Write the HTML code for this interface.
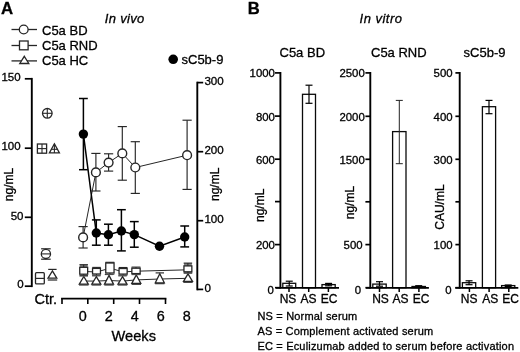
<!DOCTYPE html>
<html><head><meta charset="utf-8"><title>Figure</title>
<style>
html,body{margin:0;padding:0;background:#fff;}
svg{display:block;font-family:"Liberation Sans",sans-serif;}
</style></head>
<body>
<svg width="520" height="352" viewBox="0 0 520 352">
<rect width="520" height="352" fill="#fff"/>
<text x="1.0" y="13.8" font-size="16.8" text-anchor="start" font-weight="bold" fill="#000" stroke="#000" stroke-width="0.3">A</text>
<text x="104.8" y="23.2" font-size="13" text-anchor="start" font-style="italic" letter-spacing="0.33" fill="#000" stroke="#000" stroke-width="0.3">In vivo</text>
<line x1="11.5" y1="29.5" x2="37" y2="29.5" stroke="#262626" stroke-width="1.3" />
<circle cx="23.7" cy="29.5" r="4.4" fill="#fff" stroke="#262626" stroke-width="1.3"/>
<text x="42" y="34.8" font-size="13" text-anchor="start" fill="#000" stroke="#000" stroke-width="0.3">C5a BD</text>
<line x1="11.5" y1="45.5" x2="37" y2="45.5" stroke="#262626" stroke-width="1.3" />
<rect x="19.5" y="41.0" width="8.6" height="8.8" fill="#fff" stroke="#262626" stroke-width="1.3"/>
<text x="42" y="49.8" font-size="13" text-anchor="start" fill="#000" stroke="#000" stroke-width="0.3">C5a RND</text>
<line x1="11.5" y1="60.9" x2="37" y2="60.9" stroke="#262626" stroke-width="1.3" />
<polygon points="24.3,56.3 28.8,63.5 19.8,63.5" fill="#fff" stroke="#262626" stroke-width="1.3"/>
<text x="42" y="64.7" font-size="13" text-anchor="start" fill="#000" stroke="#000" stroke-width="0.3">C5a HC</text>
<circle cx="173.2" cy="59.3" r="4.8" fill="#000"/>
<text x="181.5" y="64" font-size="13" text-anchor="start" fill="#000" stroke="#000" stroke-width="0.3">sC5b-9</text>
<line x1="31.8" y1="77.9" x2="31.8" y2="287.1" stroke="#000" stroke-width="1.9" />
<line x1="24.8" y1="78.8" x2="31.8" y2="78.8" stroke="#000" stroke-width="1.7" />
<text x="20.599999999999998" y="81.0" font-size="11.5" text-anchor="end" fill="#000" stroke="#000" stroke-width="0.3">150</text>
<line x1="24.8" y1="148.2" x2="31.8" y2="148.2" stroke="#000" stroke-width="1.7" />
<text x="20.599999999999998" y="150.39999999999998" font-size="11.5" text-anchor="end" fill="#000" stroke="#000" stroke-width="0.3">100</text>
<line x1="24.8" y1="217.3" x2="31.8" y2="217.3" stroke="#000" stroke-width="1.7" />
<text x="23.5" y="219.5" font-size="11.5" text-anchor="end" fill="#000" stroke="#000" stroke-width="0.3">50</text>
<line x1="24.8" y1="286.2" x2="31.8" y2="286.2" stroke="#000" stroke-width="1.7" />
<text x="23.7" y="288.4" font-size="11.5" text-anchor="end" fill="#000" stroke="#000" stroke-width="0.3">0</text>
<text x="13.2" y="184.5" font-size="12.1" text-anchor="middle" transform="rotate(-90 13.2 184.5)" fill="#000" stroke="#000" stroke-width="0.3">ng/mL</text>
<line x1="197.3" y1="81.7" x2="197.3" y2="290.3" stroke="#000" stroke-width="1.9" />
<line x1="197.3" y1="82.6" x2="203.2" y2="82.6" stroke="#000" stroke-width="1.7" />
<text x="204.4" y="84.69999999999999" font-size="11.6" text-anchor="start" fill="#000" stroke="#000" stroke-width="0.3">300</text>
<line x1="197.3" y1="151.7" x2="203.2" y2="151.7" stroke="#000" stroke-width="1.7" />
<text x="204.4" y="154.29999999999998" font-size="11.6" text-anchor="start" fill="#000" stroke="#000" stroke-width="0.3">200</text>
<line x1="197.3" y1="220.7" x2="203.2" y2="220.7" stroke="#000" stroke-width="1.7" />
<text x="204.4" y="223.29999999999998" font-size="11.6" text-anchor="start" fill="#000" stroke="#000" stroke-width="0.3">100</text>
<line x1="197.3" y1="289.4" x2="203.2" y2="289.4" stroke="#000" stroke-width="1.7" />
<text x="204.4" y="291.5" font-size="11.6" text-anchor="start" fill="#000" stroke="#000" stroke-width="0.3">0</text>
<text x="219.2" y="184.3" font-size="12" text-anchor="middle" transform="rotate(-90 219.2 184.3)" fill="#000" stroke="#000" stroke-width="0.3">ng/mL</text>
<line x1="61.1" y1="298.6" x2="166.4" y2="298.6" stroke="#000" stroke-width="1.8" />
<line x1="62" y1="298.6" x2="62" y2="304" stroke="#000" stroke-width="1.6" />
<line x1="87.8" y1="298.6" x2="87.8" y2="304" stroke="#000" stroke-width="1.6" />
<line x1="113.7" y1="298.6" x2="113.7" y2="304" stroke="#000" stroke-width="1.6" />
<line x1="139.5" y1="298.6" x2="139.5" y2="304" stroke="#000" stroke-width="1.6" />
<line x1="165.5" y1="298.6" x2="165.5" y2="304" stroke="#000" stroke-width="1.6" />
<text x="82.8" y="320.9" font-size="14.4" text-anchor="middle" fill="#000" stroke="#000" stroke-width="0.3">0</text>
<text x="108.8" y="320.9" font-size="14.4" text-anchor="middle" fill="#000" stroke="#000" stroke-width="0.3">2</text>
<text x="134.8" y="320.9" font-size="14.4" text-anchor="middle" fill="#000" stroke="#000" stroke-width="0.3">4</text>
<text x="160.8" y="320.9" font-size="14.4" text-anchor="middle" fill="#000" stroke="#000" stroke-width="0.3">6</text>
<text x="186.8" y="320.9" font-size="14.4" text-anchor="middle" fill="#000" stroke="#000" stroke-width="0.3">8</text>
<text x="34.4" y="303.8" font-size="14.6" text-anchor="start" fill="#000" stroke="#000" stroke-width="0.3">Ctr.</text>
<text x="111.6" y="340.5" font-size="14.6" text-anchor="start" fill="#000" stroke="#000" stroke-width="0.3">Weeks</text>
<circle cx="47.3" cy="113.3" r="4.8" fill="#fff" stroke="#262626" stroke-width="1.3"/>
<line x1="42.5" y1="113.3" x2="52.1" y2="113.3" stroke="#262626" stroke-width="1.1" />
<line x1="47.3" y1="108.5" x2="47.3" y2="118.1" stroke="#262626" stroke-width="1.1" />
<rect x="37.4" y="144" width="9.2" height="9.2" fill="#fff" stroke="#262626" stroke-width="1.3"/>
<line x1="37.4" y1="148.6" x2="46.6" y2="148.6" stroke="#262626" stroke-width="1.1" />
<line x1="42" y1="144" x2="42" y2="153.2" stroke="#262626" stroke-width="1.1" />
<polygon points="54.4,143.8 59.4,152.9 49.4,152.9" fill="#fff" stroke="#262626" stroke-width="1.3"/>
<line x1="54.4" y1="144" x2="54.4" y2="152.9" stroke="#262626" stroke-width="1.1" />
<line x1="51.2" y1="149.3" x2="57.6" y2="149.3" stroke="#262626" stroke-width="1.1" />
<line x1="45.9" y1="248.8" x2="45.9" y2="259.2" stroke="#262626" stroke-width="1.2" />
<line x1="41.1" y1="248.8" x2="50.699999999999996" y2="248.8" stroke="#262626" stroke-width="1.2" />
<line x1="41.1" y1="259.2" x2="50.699999999999996" y2="259.2" stroke="#262626" stroke-width="1.2" />
<circle cx="45.9" cy="253.9" r="4.6" fill="#fff" stroke="#262626" stroke-width="1.3"/>
<line x1="41.3" y1="253.9" x2="50.5" y2="253.9" stroke="#262626" stroke-width="1.1" />
<rect x="35.5" y="272.7" width="8.8" height="11.2" rx="1" fill="#fff" stroke="#262626" stroke-width="1.3"/>
<line x1="35.5" y1="278.4" x2="44.3" y2="278.4" stroke="#262626" stroke-width="1.2" />
<line x1="48.2" y1="269.4" x2="56.6" y2="269.4" stroke="#262626" stroke-width="1.2" />
<line x1="47.8" y1="280.0" x2="57.2" y2="280.0" stroke="#262626" stroke-width="1.2" />
<polygon points="52.4,270.9 56.8,278.2 48,278.2" fill="#fff" stroke="#262626" stroke-width="1.3"/>
<polyline fill="none" stroke="#262626" stroke-width="1" points="83.8,281.0 96.3,281.1 109,280.5 122.5,281.1 136.3,279.9 159.8,279.0 188,278.3"/>
<polyline fill="none" stroke="#262626" stroke-width="1" points="83.6,271.40000000000003 96.5,272.0 110.2,268.20000000000005 123,271.90000000000003 136.3,271.20000000000005 188,269.8"/>
<polyline fill="none" stroke="#262626" stroke-width="1" points="83.1,237.4 95.9,172.4 108.6,162.6 122.3,153.4 135.3,167.5 187.1,155.2"/>
<polyline fill="none" stroke="#000" stroke-width="1.5" points="83.4,134.1 96.3,233.0 108.4,234.8 121.4,231.0 134.3,234.6 159.5,246.2 184.7,237.0"/>
<line x1="79.6" y1="275.6" x2="88.0" y2="275.6" stroke="#262626" stroke-width="1.15" />
<line x1="79.1" y1="285.0" x2="88.5" y2="285.0" stroke="#262626" stroke-width="1.1" />
<polygon points="83.8,276.5 88.3,284.1 79.3,284.1" fill="#fff" stroke="#262626" stroke-width="1.3"/>
<line x1="92.1" y1="275.8" x2="100.5" y2="275.8" stroke="#262626" stroke-width="1.15" />
<line x1="91.6" y1="285.0" x2="101.0" y2="285.0" stroke="#262626" stroke-width="1.1" />
<polygon points="96.3,276.7 100.8,284.1 91.8,284.1" fill="#fff" stroke="#262626" stroke-width="1.3"/>
<line x1="104.8" y1="274.5" x2="113.2" y2="274.5" stroke="#262626" stroke-width="1.15" />
<line x1="104.3" y1="285.0" x2="113.7" y2="285.0" stroke="#262626" stroke-width="1.1" />
<polygon points="109,275.4 113.5,284.1 104.5,284.1" fill="#fff" stroke="#262626" stroke-width="1.3"/>
<line x1="118.3" y1="275.8" x2="126.7" y2="275.8" stroke="#262626" stroke-width="1.15" />
<line x1="117.8" y1="285.0" x2="127.2" y2="285.0" stroke="#262626" stroke-width="1.1" />
<polygon points="122.5,276.7 127.0,284.1 118.0,284.1" fill="#fff" stroke="#262626" stroke-width="1.3"/>
<line x1="132.10000000000002" y1="274.1" x2="140.5" y2="274.1" stroke="#262626" stroke-width="1.15" />
<line x1="131.60000000000002" y1="284.3" x2="141.0" y2="284.3" stroke="#262626" stroke-width="1.1" />
<polygon points="136.3,275.0 140.8,283.40000000000003 131.8,283.40000000000003" fill="#fff" stroke="#262626" stroke-width="1.3"/>
<line x1="155.60000000000002" y1="272.90000000000003" x2="164.0" y2="272.90000000000003" stroke="#262626" stroke-width="1.15" />
<line x1="155.10000000000002" y1="283.7" x2="164.5" y2="283.7" stroke="#262626" stroke-width="1.1" />
<polygon points="159.8,273.8 164.3,282.8 155.3,282.8" fill="#fff" stroke="#262626" stroke-width="1.3"/>
<line x1="183.8" y1="272.90000000000003" x2="192.2" y2="272.90000000000003" stroke="#262626" stroke-width="1.15" />
<line x1="183.3" y1="282.3" x2="192.7" y2="282.3" stroke="#262626" stroke-width="1.1" />
<polygon points="188,273.8 192.5,281.40000000000003 183.5,281.40000000000003" fill="#fff" stroke="#262626" stroke-width="1.3"/>
<rect x="79.75" y="264.7" width="7.9" height="2.6000000000000227" fill="#808080"/>
<line x1="83.7" y1="264.7" x2="83.7" y2="276.0" stroke="#262626" stroke-width="1" />
<line x1="79.45" y1="264.7" x2="87.95" y2="264.7" stroke="#262626" stroke-width="1.1" />
<line x1="79.45" y1="276.0" x2="87.95" y2="276.0" stroke="#555" stroke-width="1.1" />
<rect x="79.75" y="267.3" width="7.9" height="6.899999999999977" fill="#fff" stroke="#262626" stroke-width="1.3"/>
<line x1="96.5" y1="267.4" x2="96.5" y2="275.2" stroke="#262626" stroke-width="1" />
<line x1="92.25" y1="267.4" x2="100.75" y2="267.4" stroke="#262626" stroke-width="1.1" />
<line x1="92.25" y1="275.2" x2="100.75" y2="275.2" stroke="#555" stroke-width="1.1" />
<rect x="92.55" y="268.4" width="7.9" height="5.600000000000023" fill="#fff" stroke="#262626" stroke-width="1.3"/>
<line x1="109.9" y1="262.3" x2="109.9" y2="274.3" stroke="#262626" stroke-width="1" />
<line x1="105.45" y1="262.3" x2="114.35000000000001" y2="262.3" stroke="#262626" stroke-width="1.1" />
<line x1="105.45" y1="274.3" x2="114.35000000000001" y2="274.3" stroke="#555" stroke-width="1.1" />
<rect x="105.75" y="263.0" width="8.3" height="10.0" fill="#fff" stroke="#262626" stroke-width="1.3"/>
<line x1="123.1" y1="267.5" x2="123.1" y2="275.2" stroke="#262626" stroke-width="1" />
<line x1="118.75" y1="267.5" x2="127.44999999999999" y2="267.5" stroke="#262626" stroke-width="1.1" />
<line x1="118.75" y1="275.2" x2="127.44999999999999" y2="275.2" stroke="#555" stroke-width="1.1" />
<rect x="119.05" y="268.5" width="8.1" height="5.600000000000023" fill="#fff" stroke="#262626" stroke-width="1.3"/>
<line x1="136.0" y1="267.1" x2="136.0" y2="274.6" stroke="#262626" stroke-width="1" />
<line x1="131.54999999999998" y1="267.1" x2="140.45000000000002" y2="267.1" stroke="#262626" stroke-width="1.1" />
<line x1="131.54999999999998" y1="274.6" x2="140.45000000000002" y2="274.6" stroke="#555" stroke-width="1.1" />
<rect x="131.85" y="268.2" width="8.3" height="5.400000000000034" fill="#fff" stroke="#262626" stroke-width="1.3"/>
<rect x="183.95000000000002" y="263.1" width="7.9" height="2.7999999999999545" fill="#808080"/>
<line x1="187.9" y1="263.1" x2="187.9" y2="273.2" stroke="#262626" stroke-width="1" />
<line x1="183.65" y1="263.1" x2="192.15" y2="263.1" stroke="#262626" stroke-width="1.1" />
<line x1="183.65" y1="273.2" x2="192.15" y2="273.2" stroke="#555" stroke-width="1.1" />
<rect x="183.95000000000002" y="265.9" width="7.9" height="5.900000000000034" fill="#fff" stroke="#262626" stroke-width="1.3"/>
<line x1="83.1" y1="226.6" x2="83.1" y2="248.0" stroke="#262626" stroke-width="1.15" />
<line x1="78.5" y1="226.6" x2="87.69999999999999" y2="226.6" stroke="#262626" stroke-width="1.15" />
<line x1="78.5" y1="248.0" x2="87.69999999999999" y2="248.0" stroke="#262626" stroke-width="1.15" />
<line x1="95.9" y1="153.4" x2="95.9" y2="191.0" stroke="#262626" stroke-width="1.15" />
<line x1="91.30000000000001" y1="153.4" x2="100.5" y2="153.4" stroke="#262626" stroke-width="1.15" />
<line x1="91.30000000000001" y1="191.0" x2="100.5" y2="191.0" stroke="#262626" stroke-width="1.15" />
<line x1="108.6" y1="153.8" x2="108.6" y2="171.1" stroke="#262626" stroke-width="1.15" />
<line x1="104.0" y1="153.8" x2="113.19999999999999" y2="153.8" stroke="#262626" stroke-width="1.15" />
<line x1="104.0" y1="171.1" x2="113.19999999999999" y2="171.1" stroke="#262626" stroke-width="1.15" />
<line x1="122.3" y1="126.6" x2="122.3" y2="180.2" stroke="#262626" stroke-width="1.15" />
<line x1="117.7" y1="126.6" x2="126.89999999999999" y2="126.6" stroke="#262626" stroke-width="1.15" />
<line x1="117.7" y1="180.2" x2="126.89999999999999" y2="180.2" stroke="#262626" stroke-width="1.15" />
<line x1="135.3" y1="141.7" x2="135.3" y2="193.4" stroke="#262626" stroke-width="1.15" />
<line x1="130.70000000000002" y1="141.7" x2="139.9" y2="141.7" stroke="#262626" stroke-width="1.15" />
<line x1="130.70000000000002" y1="193.4" x2="139.9" y2="193.4" stroke="#262626" stroke-width="1.15" />
<line x1="187.1" y1="120.2" x2="187.1" y2="189.4" stroke="#262626" stroke-width="1.15" />
<line x1="182.5" y1="120.2" x2="191.7" y2="120.2" stroke="#262626" stroke-width="1.15" />
<line x1="182.5" y1="189.4" x2="191.7" y2="189.4" stroke="#262626" stroke-width="1.15" />
<circle cx="83.1" cy="237.4" r="4.4" fill="#fff" stroke="#262626" stroke-width="1.4"/>
<circle cx="95.9" cy="172.4" r="4.4" fill="#fff" stroke="#262626" stroke-width="1.4"/>
<circle cx="108.6" cy="162.6" r="4.4" fill="#fff" stroke="#262626" stroke-width="1.4"/>
<circle cx="122.3" cy="153.4" r="4.4" fill="#fff" stroke="#262626" stroke-width="1.4"/>
<circle cx="135.3" cy="167.5" r="4.4" fill="#fff" stroke="#262626" stroke-width="1.4"/>
<circle cx="187.1" cy="155.2" r="4.4" fill="#fff" stroke="#262626" stroke-width="1.4"/>
<line x1="83.4" y1="98.5" x2="83.4" y2="169.7" stroke="#000" stroke-width="1.5" />
<line x1="79.0" y1="98.5" x2="87.80000000000001" y2="98.5" stroke="#000" stroke-width="1.5" />
<line x1="79.0" y1="169.7" x2="87.80000000000001" y2="169.7" stroke="#000" stroke-width="1.5" />
<circle cx="83.4" cy="134.1" r="4.7" fill="#000"/>
<line x1="96.3" y1="219.9" x2="96.3" y2="245.2" stroke="#000" stroke-width="1.5" />
<line x1="91.89999999999999" y1="219.9" x2="100.7" y2="219.9" stroke="#000" stroke-width="1.5" />
<line x1="91.89999999999999" y1="245.2" x2="100.7" y2="245.2" stroke="#000" stroke-width="1.5" />
<circle cx="96.3" cy="233.0" r="4.7" fill="#000"/>
<line x1="108.4" y1="224.2" x2="108.4" y2="245.2" stroke="#000" stroke-width="1.5" />
<line x1="104.0" y1="224.2" x2="112.80000000000001" y2="224.2" stroke="#000" stroke-width="1.5" />
<line x1="104.0" y1="245.2" x2="112.80000000000001" y2="245.2" stroke="#000" stroke-width="1.5" />
<circle cx="108.4" cy="234.8" r="4.7" fill="#000"/>
<line x1="121.4" y1="209.7" x2="121.4" y2="250.9" stroke="#000" stroke-width="1.5" />
<line x1="117.0" y1="209.7" x2="125.80000000000001" y2="209.7" stroke="#000" stroke-width="1.5" />
<line x1="117.0" y1="250.9" x2="125.80000000000001" y2="250.9" stroke="#000" stroke-width="1.5" />
<circle cx="121.4" cy="231.0" r="4.7" fill="#000"/>
<line x1="134.3" y1="221.6" x2="134.3" y2="247.2" stroke="#000" stroke-width="1.5" />
<line x1="129.9" y1="221.6" x2="138.70000000000002" y2="221.6" stroke="#000" stroke-width="1.5" />
<line x1="129.9" y1="247.2" x2="138.70000000000002" y2="247.2" stroke="#000" stroke-width="1.5" />
<circle cx="134.3" cy="234.6" r="4.7" fill="#000"/>
<circle cx="159.5" cy="246.2" r="4.7" fill="#000"/>
<line x1="184.7" y1="226.0" x2="184.7" y2="246.9" stroke="#000" stroke-width="1.5" />
<line x1="180.29999999999998" y1="226.0" x2="189.1" y2="226.0" stroke="#000" stroke-width="1.5" />
<line x1="180.29999999999998" y1="246.9" x2="189.1" y2="246.9" stroke="#000" stroke-width="1.5" />
<circle cx="184.7" cy="237.0" r="4.7" fill="#000"/>
<text x="247.7" y="13.8" font-size="16.6" text-anchor="start" font-weight="bold" fill="#000" stroke="#000" stroke-width="0.3">B</text>
<text x="359.6" y="22.7" font-size="13" text-anchor="start" font-style="italic" letter-spacing="0.48" fill="#000" stroke="#000" stroke-width="0.3">In vitro</text>
<text x="279.5" y="57.3" font-size="13" text-anchor="start" fill="#000" stroke="#000" stroke-width="0.3">C5a BD</text>
<line x1="280.4" y1="72.0" x2="280.4" y2="288.6" stroke="#000" stroke-width="1.9" />
<line x1="275.0" y1="72.9" x2="280.4" y2="72.9" stroke="#000" stroke-width="1.7" />
<text x="274.90000000000003" y="77.30000000000001" font-size="11.4" text-anchor="end" fill="#000" stroke="#000" stroke-width="0.3">1000</text>
<line x1="275.0" y1="116.1" x2="280.4" y2="116.1" stroke="#000" stroke-width="1.7" />
<text x="274.90000000000003" y="120.5" font-size="11.4" text-anchor="end" fill="#000" stroke="#000" stroke-width="0.3">800</text>
<line x1="275.0" y1="159.2" x2="280.4" y2="159.2" stroke="#000" stroke-width="1.7" />
<text x="274.90000000000003" y="163.6" font-size="11.4" text-anchor="end" fill="#000" stroke="#000" stroke-width="0.3">600</text>
<line x1="275.0" y1="201.6" x2="280.4" y2="201.6" stroke="#000" stroke-width="1.7" />
<line x1="275.0" y1="244.6" x2="280.4" y2="244.6" stroke="#000" stroke-width="1.7" />
<text x="274.90000000000003" y="249.0" font-size="11.4" text-anchor="end" fill="#000" stroke="#000" stroke-width="0.3">200</text>
<line x1="275.0" y1="287.7" x2="280.4" y2="287.7" stroke="#000" stroke-width="1.7" />
<text x="273.8" y="293.7" font-size="11.4" text-anchor="end" fill="#000" stroke="#000" stroke-width="0.3">0</text>
<text x="263.8" y="205.3" font-size="12" text-anchor="middle" transform="rotate(-90 263.8 205.3)" fill="#000" stroke="#000" stroke-width="0.3">ng/mL</text>
<rect x="282.8" y="283.3" width="12.899999999999977" height="4.399999999999977" fill="#fff" stroke="#0a0a0a" stroke-width="1.3"/>
<line x1="289.25" y1="281.2" x2="289.25" y2="286.0" stroke="#000" stroke-width="1.2" />
<line x1="285.75" y1="281.2" x2="292.75" y2="281.2" stroke="#000" stroke-width="1.2" />
<line x1="285.75" y1="286.0" x2="292.75" y2="286.0" stroke="#000" stroke-width="1.2" />
<rect x="302.5" y="94.3" width="13.0" height="193.39999999999998" fill="#fff" stroke="#0a0a0a" stroke-width="1.3"/>
<line x1="309.0" y1="85.2" x2="309.0" y2="103.3" stroke="#000" stroke-width="1.2" />
<line x1="305.5" y1="85.2" x2="312.5" y2="85.2" stroke="#000" stroke-width="1.2" />
<line x1="305.5" y1="103.3" x2="312.5" y2="103.3" stroke="#000" stroke-width="1.2" />
<rect x="322" y="284.6" width="13.199999999999989" height="3.099999999999966" fill="#fff" stroke="#0a0a0a" stroke-width="1.3"/>
<line x1="328.6" y1="283.4" x2="328.6" y2="285.8" stroke="#000" stroke-width="1.2" />
<line x1="325.1" y1="283.4" x2="332.1" y2="283.4" stroke="#000" stroke-width="1.2" />
<line x1="325.1" y1="285.8" x2="332.1" y2="285.8" stroke="#000" stroke-width="1.2" />
<line x1="276.0" y1="287.85" x2="339.0" y2="287.85" stroke="#000" stroke-width="1.8" />
<line x1="289.0" y1="287.8" x2="289.0" y2="292.0" stroke="#000" stroke-width="1.5" />
<text x="288.0" y="303.2" font-size="12" text-anchor="middle" fill="#000" stroke="#000" stroke-width="0.3">NS</text>
<line x1="308.7" y1="287.8" x2="308.7" y2="292.0" stroke="#000" stroke-width="1.5" />
<text x="308.4" y="303.2" font-size="12" text-anchor="middle" fill="#000" stroke="#000" stroke-width="0.3">AS</text>
<line x1="328.4" y1="287.8" x2="328.4" y2="292.0" stroke="#000" stroke-width="1.5" />
<text x="329.2" y="303.2" font-size="12" text-anchor="middle" fill="#000" stroke="#000" stroke-width="0.3">EC</text>
<text x="371" y="57.3" font-size="13" text-anchor="start" fill="#000" stroke="#000" stroke-width="0.3">C5a RND</text>
<line x1="370.29999999999995" y1="72.0" x2="370.29999999999995" y2="288.6" stroke="#000" stroke-width="1.9" />
<line x1="365.4" y1="72.9" x2="370.29999999999995" y2="72.9" stroke="#000" stroke-width="1.7" />
<text x="364.8" y="77.30000000000001" font-size="11.4" text-anchor="end" fill="#000" stroke="#000" stroke-width="0.3">2500</text>
<line x1="365.4" y1="116.3" x2="370.29999999999995" y2="116.3" stroke="#000" stroke-width="1.7" />
<text x="364.8" y="120.7" font-size="11.4" text-anchor="end" fill="#000" stroke="#000" stroke-width="0.3">2000</text>
<line x1="365.4" y1="159.3" x2="370.29999999999995" y2="159.3" stroke="#000" stroke-width="1.7" />
<text x="364.8" y="163.70000000000002" font-size="11.4" text-anchor="end" fill="#000" stroke="#000" stroke-width="0.3">1500</text>
<line x1="365.4" y1="201.8" x2="370.29999999999995" y2="201.8" stroke="#000" stroke-width="1.7" />
<line x1="365.4" y1="244.6" x2="370.29999999999995" y2="244.6" stroke="#000" stroke-width="1.7" />
<text x="362.6" y="249.0" font-size="11.4" text-anchor="end" fill="#000" stroke="#000" stroke-width="0.3">500</text>
<line x1="365.4" y1="287.7" x2="370.29999999999995" y2="287.7" stroke="#000" stroke-width="1.7" />
<text x="361.2" y="293.7" font-size="11.4" text-anchor="end" fill="#000" stroke="#000" stroke-width="0.3">0</text>
<text x="354" y="202.6" font-size="12" text-anchor="middle" transform="rotate(-90 354 202.6)" fill="#000" stroke="#000" stroke-width="0.3">ng/mL</text>
<rect x="372.8" y="284.1" width="13.399999999999977" height="3.599999999999966" fill="#fff" stroke="#0a0a0a" stroke-width="1.3"/>
<line x1="379.5" y1="281.7" x2="379.5" y2="286.2" stroke="#000" stroke-width="1.2" />
<line x1="376.0" y1="281.7" x2="383.0" y2="281.7" stroke="#000" stroke-width="1.2" />
<line x1="376.0" y1="286.2" x2="383.0" y2="286.2" stroke="#000" stroke-width="1.2" />
<rect x="392.6" y="131.6" width="13.399999999999977" height="156.1" fill="#fff" stroke="#0a0a0a" stroke-width="1.3"/>
<line x1="399.3" y1="100.4" x2="399.3" y2="163.7" stroke="#222" stroke-width="1.0" />
<line x1="395.8" y1="100.4" x2="402.8" y2="100.4" stroke="#222" stroke-width="1.0" />
<line x1="395.8" y1="163.7" x2="402.8" y2="163.7" stroke="#222" stroke-width="1.0" />
<rect x="412" y="286.5" width="13.399999999999977" height="1.1999999999999886" fill="#fff" stroke="#0a0a0a" stroke-width="1.3"/>
<line x1="418.7" y1="285.7" x2="418.7" y2="287.2" stroke="#000" stroke-width="1.2" />
<line x1="415.2" y1="285.7" x2="422.2" y2="285.7" stroke="#000" stroke-width="1.2" />
<line x1="415.2" y1="287.2" x2="422.2" y2="287.2" stroke="#000" stroke-width="1.2" />
<line x1="365.9" y1="287.85" x2="428.9" y2="287.85" stroke="#000" stroke-width="1.8" />
<line x1="379.5" y1="287.8" x2="379.5" y2="292.0" stroke="#000" stroke-width="1.5" />
<text x="380.5" y="303.2" font-size="12" text-anchor="middle" fill="#000" stroke="#000" stroke-width="0.3">NS</text>
<line x1="399.2" y1="287.8" x2="399.2" y2="292.0" stroke="#000" stroke-width="1.5" />
<text x="400.6" y="303.2" font-size="12" text-anchor="middle" fill="#000" stroke="#000" stroke-width="0.3">AS</text>
<line x1="418.9" y1="287.8" x2="418.9" y2="292.0" stroke="#000" stroke-width="1.5" />
<text x="421.2" y="303.2" font-size="12" text-anchor="middle" fill="#000" stroke="#000" stroke-width="0.3">EC</text>
<text x="463.6" y="57.3" font-size="13" text-anchor="start" fill="#000" stroke="#000" stroke-width="0.3">sC5b-9</text>
<line x1="459.7" y1="72.0" x2="459.7" y2="288.6" stroke="#000" stroke-width="1.9" />
<line x1="455.4" y1="72.9" x2="459.7" y2="72.9" stroke="#000" stroke-width="1.7" />
<text x="452.6" y="77.30000000000001" font-size="11.4" text-anchor="end" fill="#000" stroke="#000" stroke-width="0.3">500</text>
<line x1="455.4" y1="116.3" x2="459.7" y2="116.3" stroke="#000" stroke-width="1.7" />
<text x="452.6" y="120.7" font-size="11.4" text-anchor="end" fill="#000" stroke="#000" stroke-width="0.3">400</text>
<line x1="455.4" y1="159.3" x2="459.7" y2="159.3" stroke="#000" stroke-width="1.7" />
<text x="452.6" y="163.70000000000002" font-size="11.4" text-anchor="end" fill="#000" stroke="#000" stroke-width="0.3">300</text>
<line x1="455.4" y1="201.8" x2="459.7" y2="201.8" stroke="#000" stroke-width="1.7" />
<line x1="455.4" y1="244.6" x2="459.7" y2="244.6" stroke="#000" stroke-width="1.7" />
<text x="452.6" y="249.0" font-size="11.4" text-anchor="end" fill="#000" stroke="#000" stroke-width="0.3">100</text>
<line x1="455.4" y1="287.7" x2="459.7" y2="287.7" stroke="#000" stroke-width="1.7" />
<text x="451.5" y="293.7" font-size="11.4" text-anchor="end" fill="#000" stroke="#000" stroke-width="0.3">0</text>
<text x="444" y="207.1" font-size="12" text-anchor="middle" transform="rotate(-90 444 207.1)" fill="#000" stroke="#000" stroke-width="0.3">CAU/mL</text>
<rect x="462.4" y="282.7" width="13.300000000000011" height="5.0" fill="#fff" stroke="#0a0a0a" stroke-width="1.3"/>
<line x1="469.04999999999995" y1="280.8" x2="469.04999999999995" y2="284.7" stroke="#000" stroke-width="1.2" />
<line x1="465.54999999999995" y1="280.8" x2="472.54999999999995" y2="280.8" stroke="#000" stroke-width="1.2" />
<line x1="465.54999999999995" y1="284.7" x2="472.54999999999995" y2="284.7" stroke="#000" stroke-width="1.2" />
<rect x="482.4" y="106.7" width="13.200000000000045" height="181.0" fill="#fff" stroke="#0a0a0a" stroke-width="1.3"/>
<line x1="489.0" y1="100.4" x2="489.0" y2="113.7" stroke="#000" stroke-width="1.2" />
<line x1="485.5" y1="100.4" x2="492.5" y2="100.4" stroke="#000" stroke-width="1.2" />
<line x1="485.5" y1="113.7" x2="492.5" y2="113.7" stroke="#000" stroke-width="1.2" />
<rect x="501.6" y="285.6" width="13.199999999999932" height="2.099999999999966" fill="#fff" stroke="#0a0a0a" stroke-width="1.3"/>
<line x1="508.2" y1="285.0" x2="508.2" y2="286.4" stroke="#000" stroke-width="1.2" />
<line x1="504.7" y1="285.0" x2="511.7" y2="285.0" stroke="#000" stroke-width="1.2" />
<line x1="504.7" y1="286.4" x2="511.7" y2="286.4" stroke="#000" stroke-width="1.2" />
<line x1="455.3" y1="287.85" x2="518.3" y2="287.85" stroke="#000" stroke-width="1.8" />
<line x1="469.40000000000003" y1="287.8" x2="469.40000000000003" y2="292.0" stroke="#000" stroke-width="1.5" />
<text x="469.1" y="303.2" font-size="12" text-anchor="middle" fill="#000" stroke="#000" stroke-width="0.3">NS</text>
<line x1="489.1" y1="287.8" x2="489.1" y2="292.0" stroke="#000" stroke-width="1.5" />
<text x="490.2" y="303.2" font-size="12" text-anchor="middle" fill="#000" stroke="#000" stroke-width="0.3">AS</text>
<line x1="508.8" y1="287.8" x2="508.8" y2="292.0" stroke="#000" stroke-width="1.5" />
<text x="510.5" y="303.2" font-size="12" text-anchor="middle" fill="#000" stroke="#000" stroke-width="0.3">EC</text>
<text x="257.4" y="319.7" font-size="11" text-anchor="start" letter-spacing="0.185" fill="#000" stroke="#000" stroke-width="0.3">NS = Normal serum</text>
<text x="257.4" y="334.8" font-size="11" text-anchor="start" letter-spacing="0.185" fill="#000" stroke="#000" stroke-width="0.3">AS = Complement activated serum</text>
<text x="257.4" y="349.8" font-size="11" text-anchor="start" letter-spacing="0.185" fill="#000" stroke="#000" stroke-width="0.3">EC = Eculizumab added to serum before activation</text>
</svg>
</body></html>
